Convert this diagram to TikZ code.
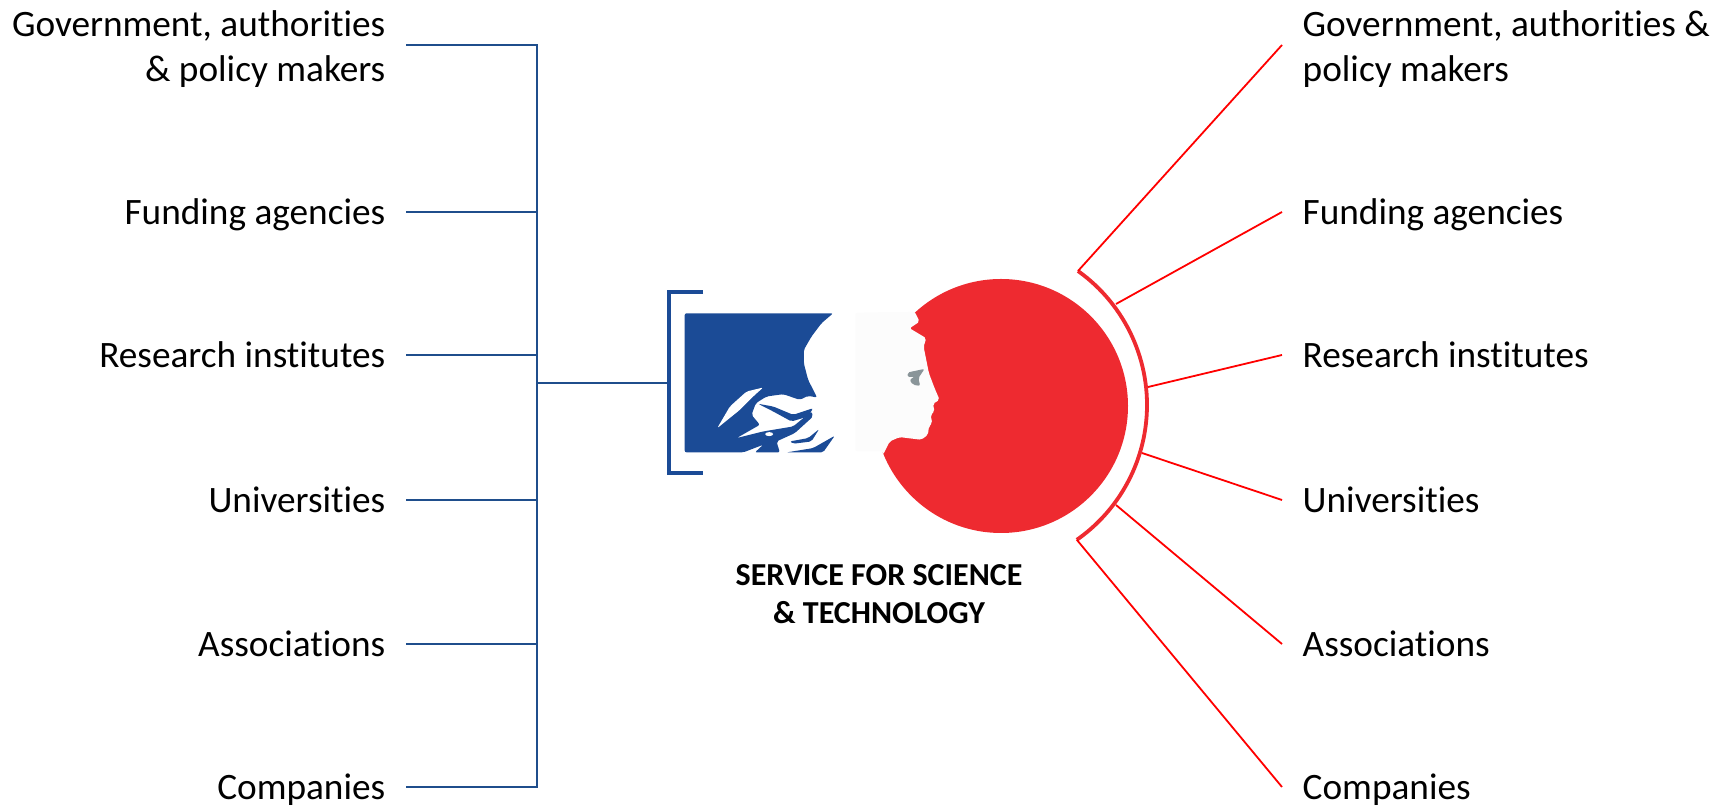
\documentclass[tikz,border=0pt]{standalone}
\usepackage{fontspec}
\setmainfont{Carlito}[Ligatures=NoCommon]
\definecolor{flagblue}{HTML}{1B4B96}
\definecolor{linkblue}{HTML}{1F4E8C}
\definecolor{flagred}{HTML}{EE2A30}
\definecolor{eyegrey}{HTML}{8A9599}
\tikzset{
	leftlabel/.style={anchor=east, align=right, inner xsep=0.2cm, inner ysep=0pt, font=\fontsize{10.6}{12.8}\selectfont},
	rightlabel/.style={anchor=west, align=left, inner xsep=0.2cm, inner ysep=0pt, font=\fontsize{10.6}{12.8}\selectfont},
	oneline/.style={text height=8pt, text depth=2.5pt},
	bluelink/.style={draw=linkblue, line width=0.26mm},
	redlink/.style={draw=red, line width=0.18mm},
	logopart/.style={rounded corners=0.2mm}
}

\begin{document}
\begin{tikzpicture}[x=0.01cm, y=-0.01cm]
		%%%%% START %%%%%
		\useasboundingbox (0, 0) rectangle (1729, 807);

		% left labels
		\node[leftlabel] (leftgov) at (406, 49) {Government, authorities\\\& policy makers};
		\node[leftlabel, oneline] (leftfund) at (406, 215) {Funding agencies};
		\node[leftlabel, oneline] (leftres) at (406, 358) {Research institutes};
		\node[leftlabel, oneline] (leftuni) at (406, 503) {Universities};
		\node[leftlabel, oneline] (leftass) at (406, 647) {Associations};
		\node[leftlabel, oneline] (leftcom) at (406, 790) {Companies};

		% right labels
		\node[rightlabel] (rightgov) at (1282, 49) {Government, authorities \&\\policy makers};
		\node[rightlabel, oneline] (rightfund) at (1282, 215) {Funding agencies};
		\node[rightlabel, oneline] (rightres) at (1282, 358) {Research institutes};
		\node[rightlabel, oneline] (rightuni) at (1282, 503) {Universities};
		\node[rightlabel, oneline] (rightass) at (1282, 647) {Associations};
		\node[rightlabel, oneline] (rightcom) at (1282, 790) {Companies};

		% blue tree
		\coordinate (trunkgov) at (537, 45);
		\coordinate (trunkfund) at (537, 212);
		\coordinate (trunkres) at (537, 355);
		\coordinate (trunkhub) at (537, 383);
		\coordinate (trunkuni) at (537, 500);
		\coordinate (trunkass) at (537, 644);
		\coordinate (trunkcom) at (537, 787);
		\coordinate (brackethub) at (669, 383);
		\draw[bluelink] (leftgov.east |- trunkgov) -- (trunkgov) -- (trunkcom) -- (leftcom.east |- trunkcom);
		\draw[bluelink] (leftfund.east |- trunkfund) -- (trunkfund);
		\draw[bluelink] (leftres.east |- trunkres) -- (trunkres);
		\draw[bluelink] (leftuni.east |- trunkuni) -- (trunkuni);
		\draw[bluelink] (leftass.east |- trunkass) -- (trunkass);
		\draw[bluelink] (trunkhub) -- (brackethub);
		\draw[draw=flagblue, line width=0.35mm] (703, 292) -- (669, 292) -- (669, 473) -- (703, 473);

		% red circle and face
		\fill[flagred] (1001, 406) circle (127);
		\begin{scope}[shift={(680, 300)}, x=0.003333cm, y=-0.003333cm]
			\fill[white!99!black, logopart] (705, 35) -- (720, 65) -- (690, 85) -- (740, 115) -- (732, 140)
				-- (748, 220) -- (765, 265) -- (780, 300) -- (760, 312) -- (765, 335) -- (753, 345) -- (758, 370)
				-- (748, 380) -- (745, 405) -- (725, 420) -- (660, 412) -- (630, 425) -- (610, 465)
				-- (610, 455) -- (527, 455) -- (527, 38) -- cycle;
			\fill[eyegrey, logopart] (683, 218) -- (735, 207) -- (716, 235) -- (722, 258) -- (700, 255)
				-- (690, 240) -- (705, 230) -- (685, 232) -- cycle;

			% blue part of the flag
			\fill[flagblue, logopart] (14, 40) -- (460, 40) -- (425, 70) -- (395, 110) -- (372, 150) -- (372, 190)
				-- (385, 240) -- (412, 293) -- (385, 288) -- (360, 300) -- (310, 283) -- (260, 290) -- (228, 310)
				-- (215, 345) -- (240, 375) -- (170, 415) -- (250, 395) -- (340, 380) -- (395, 335) -- (400, 350)
				-- (345, 400) -- (290, 425) -- (300, 458) -- (225, 458) -- (250, 435) -- (190, 458) -- (14, 458) -- cycle;
			\fill[white, logopart] (112, 385) -- (150, 320) -- (200, 275) -- (250, 263) -- (225, 285) -- (180, 330) -- cycle;
			\fill[white] (268, 403) ellipse (12 and 6);
			\fill[flagblue, logopart] (235, 312) -- (280, 320) -- (340, 345) -- (400, 325) -- (385, 350) -- (335, 365) -- (280, 335) -- cycle;
			\fill[flagblue, logopart] (330, 425) -- (385, 415) -- (418, 388) -- (395, 425) -- (340, 432) -- cycle;
			\fill[flagblue, logopart] (320, 458) -- (400, 445) -- (465, 408) -- (430, 458) -- cycle;
		\end{scope}

		% red arc and spokes
		\coordinate (arcgov) at (1078, 271);
		\coordinate (arcfund) at (1116, 304);
		\coordinate (arcres) at (1148, 387);
		\coordinate (arcuni) at (1142, 453);
		\coordinate (arcass) at (1116, 505);
		\draw[flagred, line width=0.38mm] (arcgov) arc (-54.5:55:164.6) coordinate (arccom);
		\draw[redlink] (arcgov) -- (rightgov.west |- trunkgov);
		\draw[redlink] (arcfund) -- (rightfund.west |- trunkfund);
		\draw[redlink] (arcres) -- (rightres.west |- trunkres);
		\draw[redlink] (arcuni) -- (rightuni.west |- trunkuni);
		\draw[redlink] (arcass) -- (rightass.west |- trunkass);
		\draw[redlink] (arccom) -- (rightcom.west |- trunkcom);

		\node[align=center, inner sep=0pt, font=\fontsize{9.1}{11}\selectfont\bfseries] (service) at (879, 594) {SERVICE FOR SCIENCE\\\& TECHNOLOGY};
		%%%%% END %%%%%
	\end{tikzpicture}
\end{document}
